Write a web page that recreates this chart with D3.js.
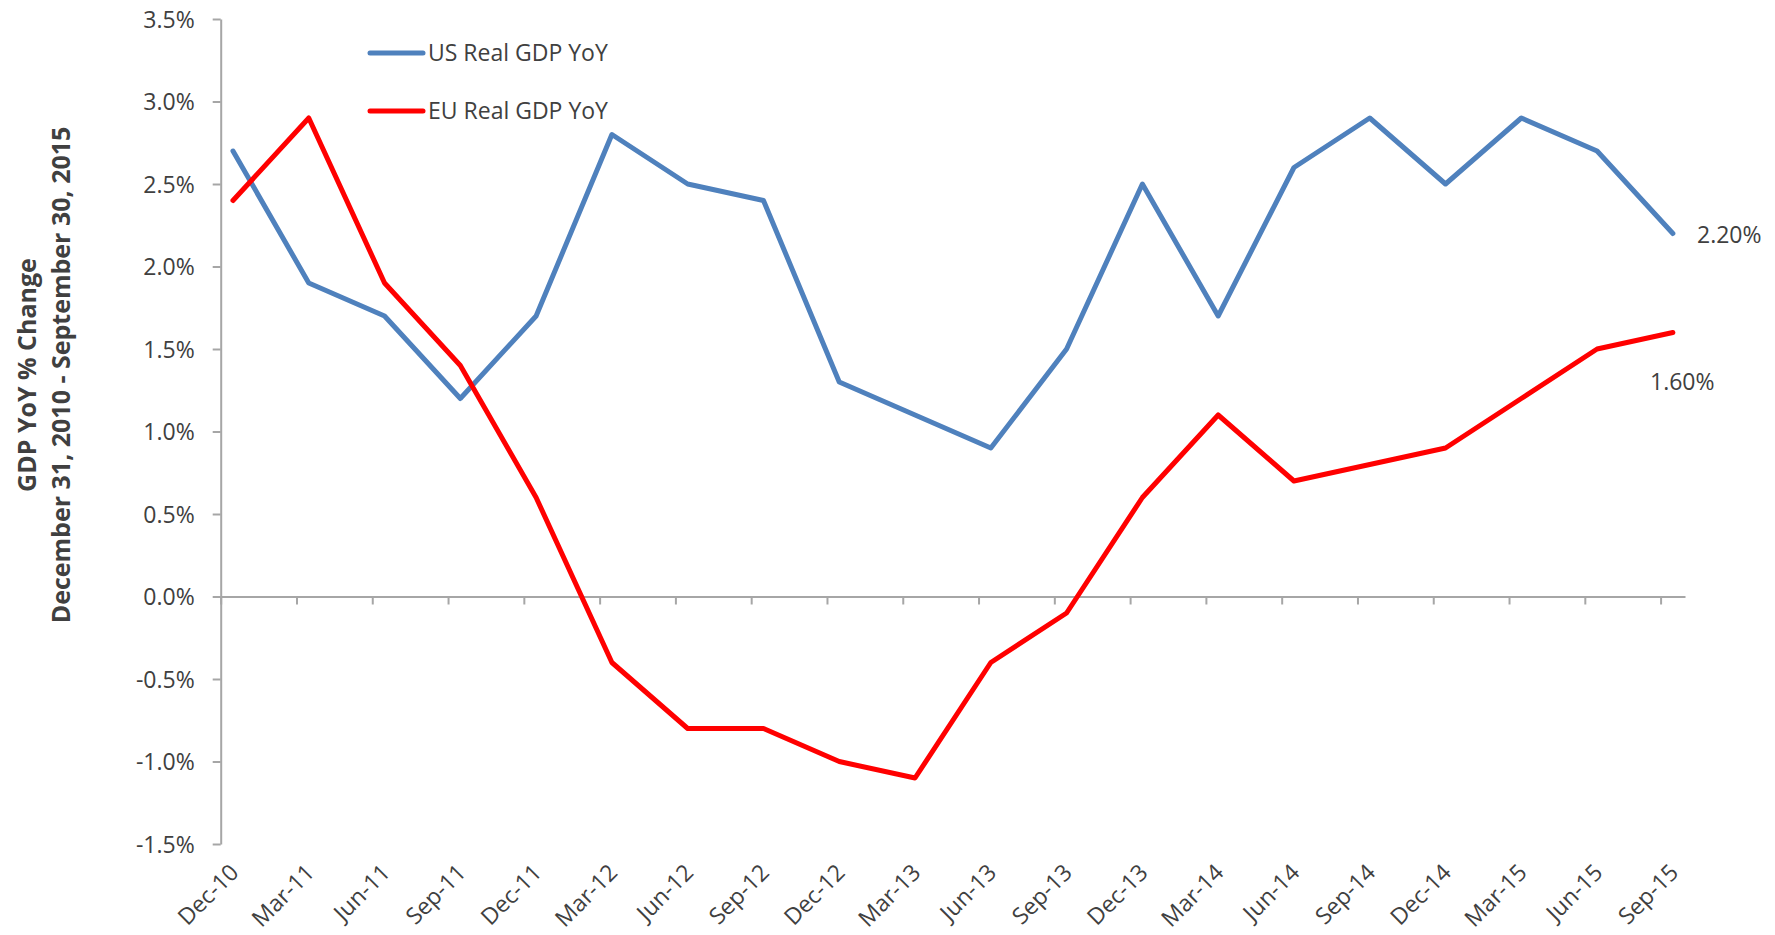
<!DOCTYPE html>
<html>
<head>
<meta charset="utf-8">
<script src="https://cdn.jsdelivr.net/npm/d3@7/dist/d3.min.js"></script>
<style>
  body { margin: 0; background: #fff; }
  svg { display: block; }
  text { font-family: "Open Sans", "Noto Sans", sans-serif; fill: #404040; }
</style>
</head>
<body>
<svg id="chart" width="1775" height="935"></svg>
<script>
const categories = ["Dec-10","Mar-11","Jun-11","Sep-11","Dec-11","Mar-12","Jun-12","Sep-12","Dec-12","Mar-13","Jun-13","Sep-13","Dec-13","Mar-14","Jun-14","Sep-14","Dec-14","Mar-15","Jun-15","Sep-15"];
const usValues = [2.7,1.9,1.7,1.2,1.7,2.8,2.5,2.4,1.3,1.1,0.9,1.5,2.5,1.7,2.6,2.9,2.5,2.9,2.7,2.2];
const euValues = [2.4,2.9,1.9,1.4,0.6,-0.4,-0.8,-0.8,-1.0,-1.1,-0.4,-0.1,0.6,1.1,0.7,0.8,0.9,1.2,1.5,1.6];
const yTicks = [-1.5,-1.0,-0.5,0.0,0.5,1.0,1.5,2.0,2.5,3.0,3.5];
const yTickLabels = ["-1.5%","-1.0%","-0.5%","0.0%","0.5%","1.0%","1.5%","2.0%","2.5%","3.0%","3.5%"];
const seriesNames = ["US Real GDP YoY","EU Real GDP YoY"];
const endLabels = ["2.20%","1.60%"];

const svg = d3.select("#chart");
const axisColor = "#A6A6A6";

// scales
const y = d3.scaleLinear().domain([-1.5, 3.5]).range([844, 19]);
const off = 0.162;
const x = d3.scaleLinear().domain([-off, 19.16]).range([220.7, 1685]);

// y axis
const yAxis = d3.axisLeft(y).tickValues(yTicks).tickSize(8).tickSizeOuter(0)
  .tickFormat((d, i) => yTickLabels[i]);
const gy = svg.append("g").attr("transform", "translate(" + x(-off) + ",0)").call(yAxis);
gy.select(".domain").attr("stroke", axisColor).attr("stroke-width", 2);
gy.selectAll(".tick line").attr("stroke", axisColor).attr("stroke-width", 2);
gy.selectAll(".tick text").attr("font-size", "23px").attr("fill", "#404040")
  .attr("x", -26).attr("dy", "0.35em").style("font-family", '"Open Sans", sans-serif');

// x axis at zero
const xAxis = d3.axisBottom(x).tickValues(categories.map((c, i) => i - off))
  .tickSize(8).tickSizeOuter(0).tickFormat("");
const gx = svg.append("g").attr("transform", "translate(0," + y(0) + ")").call(xAxis);
gx.select(".domain").attr("stroke", axisColor).attr("stroke-width", 2);
gx.selectAll(".tick line").attr("stroke", axisColor).attr("stroke-width", 2);

// category labels
svg.append("g").selectAll("text").data(categories).join("text")
  .attr("transform", (d, i) => "translate(" + (x(i) + 7) + ",874) rotate(-45)")
  .attr("text-anchor", "end")
  .attr("font-size", "23px")
  .text(d => d);

// lines
const line = d3.line().x((d, i) => x(i)).y(d => y(d));
const colors = ["#4F81BD", "#FF0000"];
[usValues, euValues].forEach((vals, k) => {
  svg.append("path").datum(vals)
    .attr("fill", "none").attr("stroke", colors[k]).attr("stroke-width", 5)
    .attr("stroke-linejoin", "round").attr("stroke-linecap", "round")
    .attr("d", line);
});

// end labels
svg.append("text").attr("x", 1697).attr("y", 243).attr("font-size", "23px").text(endLabels[0]);
svg.append("text").attr("x", 1650).attr("y", 390).attr("font-size", "23px").text(endLabels[1]);

// legend
const legY = [53, 111];
seriesNames.forEach((n, k) => {
  svg.append("line").attr("x1", 370).attr("x2", 423).attr("y1", legY[k]).attr("y2", legY[k])
    .attr("stroke", colors[k]).attr("stroke-width", 5).attr("stroke-linecap", "round");
  svg.append("text").attr("x", 428).attr("y", legY[k]).attr("dy", "0.36em")
    .attr("font-size", "23px").text(n);
});

// y title
const yt = svg.append("text").attr("transform", "translate(0,375) rotate(-90)")
  .attr("text-anchor", "middle").attr("font-size", "25px").attr("font-weight", "bold")
  .attr("fill", "#404040");
yt.append("tspan").attr("x", 0).attr("y", 36).text("GDP YoY % Change");
yt.append("tspan").attr("x", 0).attr("y", 70).text("December 31, 2010 - September 30, 2015");
</script>
</body>
</html>
